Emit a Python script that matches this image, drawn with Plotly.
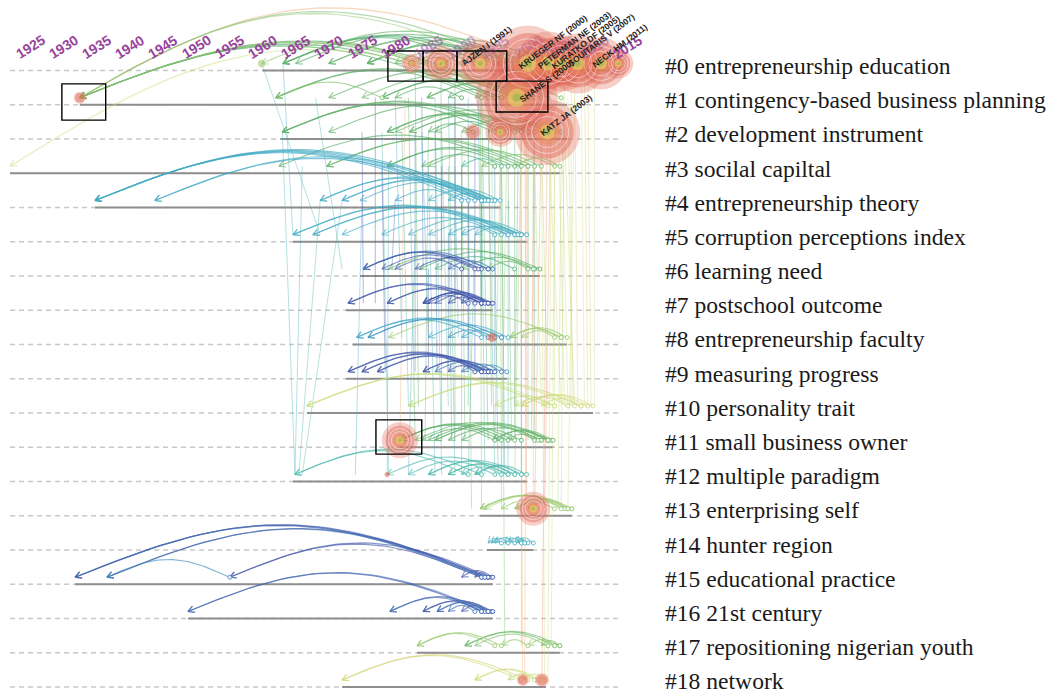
import numpy as np
import plotly.graph_objects as go

# ------------------------------------------------------------------ data
cluster_ids = list(range(19))
cluster_names = [
    "entrepreneurship education", "contingency-based business planning",
    "development instrument", "socilal capiltal", "entrepreneurship theory",
    "corruption perceptions index", "learning need", "postschool outcome",
    "entrepreneurship faculty", "measuring progress", "personality trait",
    "small business owner", "multiple paradigm", "enterprising self",
    "hunter region", "educational practice", "21st century",
    "repositioning nigerian youth", "network",
]
cluster_start = [1960.0, 1932.5, 1962.7, 1922.0, 1934.8, 1964.6, 1974.7, 1972.6, 1973.6, 1972.6,
                 1966.7, 1980.7, 1964.6, 1992.8, 1993.8, 1931.8, 1948.8, 1983.3, 1972.0]
cluster_end = [2012.0, 2005.9, 2006.0, 2004.8, 1995.8, 1999.8, 2001.8, 1994.7, 2005.9, 1996.8,
               2009.8, 2003.8, 1999.8, 2006.6, 2000.8, 1994.7, 1994.7, 2004.8, 2002.7]
timeline_first, timeline_last = 1922.0, 2013.9
year_ticks = list(range(1925, 2016, 5))

# arcs inside a cluster: (citing year, cited year, year of the co-citation link)
arcs_0 = [(1992.0, 1963.1, 2003), (1993.5, 1963.1, 2003), (1995.0, 1963.1, 2002),
          (2000.0, 1963.1, 2004), (1998.0, 1965.0, 2003), (1996.0, 1970.0, 2004),
          (1999.0, 1970.0, 2003), (2003.0, 1975.8, 2004),
          (1995.8, 1975.8, 2003), (1997.0, 1975.8, 2003), (1990.0, 1980.0, 2004),
          (1998.0, 1982.5, 2004), (2000.0, 1986.9, 2004), (1988.0, 1984.0, 2003),
          (1997.0, 1989.8, 2005), (2002.0, 1992.8, 2004), (2005.0, 1996.0, 2005),
          (2008.0, 2001.8, 2007), (2011.0, 2004.0, 2008), (1983.0, 1959.9, 2006)]
arcs_1 = [(1994.0, 1932.5, 2003), (1996.0, 1932.5, 2003), (1998.0, 1932.5, 2004),
          (2000.0, 1932.5, 2003), (1999.0, 1932.5, 2006), (1993.0, 1962.0, 2003),
          (1995.0, 1962.0, 2004), (1998.0, 1978.0, 2003), (1996.0, 1978.0, 2003),
          (2000.0, 1984.8, 2003), (2002.0, 1984.8, 2004), (1995.0, 1988.0, 2003),
          (2003.0, 1992.0, 2004), (1990.0, 1980.0, 2003), (2005.0, 1996.0, 2005),
          (1978.0, 1962.0, 2005), (1999.0, 1970.0, 2003), (2001.0, 1975.0, 2004)]
arcs_2 = [(1995.0, 1963.0, 2003), (1997.0, 1963.0, 2003), (1998.0, 1963.0, 2004),
          (1997.0, 1978.8, 2003), (1999.0, 1978.8, 2003), (2000.0, 1982.2, 2003),
          (2001.0, 1982.2, 2004), (2003.0, 1990.0, 2004), (1995.8, 1986.0, 2003),
          (2005.0, 1998.0, 2005), (2002.9, 1994.0, 2004), (1991.7, 1985.0, 2003),
          (2000.0, 1970.0, 2003), (2004.0, 1980.0, 2004)]
arcs_3 = [(1998.0, 1962.5, 2003), (2000.0, 1969.7, 2003), (2001.0, 1969.7, 2004),
          (1997.0, 1978.8, 2003), (1999.0, 1978.8, 2003), (2002.0, 1985.0, 2004),
          (2004.0, 1993.0, 2005), (1995.0, 1984.0, 2003), (2004.8, 1998.0, 2005),
          (1996.0, 1990.0, 2001)]
arcs_4 = [(1991.0, 1934.8, 1997), (1992.0, 1934.8, 1997), (1993.0, 1934.8, 1998),
          (1994.0, 1934.8, 1997), (1995.0, 1934.8, 1998), (1993.0, 1943.8, 1997),
          (1995.0, 1943.8, 1998), (1993.0, 1968.7, 1997), (1994.5, 1968.7, 1998),
          (1995.0, 1972.0, 1997), (1993.5, 1972.0, 1997), (1994.0, 1974.7, 1998),
          (1995.8, 1985.0, 1998), (1993.5, 1988.0, 1997), (1990.0, 1980.0, 1997)]
arcs_5 = [(1997.0, 1964.6, 1997), (1998.0, 1964.6, 1998), (1999.0, 1967.6, 1997),
          (1998.5, 1967.6, 1998), (1998.0, 1972.0, 1997), (1996.0, 1978.0, 1998),
          (1999.8, 1985.0, 1998), (1995.0, 1988.0, 1997), (1998.5, 1992.0, 1998),
          (1997.0, 1990.0, 1997), (1999.0, 1982.0, 1998)]
arcs_6 = [(1993.0, 1975.2, 1994), (1992.5, 1975.2, 1994), (1994.0, 1975.2, 1995),
          (1992.0, 1978.0, 1994), (1994.0, 1983.0, 1994), (1990.0, 1980.0, 1994),
          (1994.7, 1988.0, 1995), (2001.8, 1983.7, 2003), (2001.0, 1990.0, 2003),
          (2000.0, 1994.0, 2004), (1998.0, 1986.0, 2002), (2000.8, 1979.0, 2004)]
arcs_7 = [(1994.0, 1972.9, 1994), (1993.0, 1972.9, 1994), (1993.0, 1978.8, 1994),
          (1994.5, 1978.8, 1994), (1994.7, 1984.2, 1994), (1994.0, 1984.2, 1994),
          (1993.0, 1984.2, 1994), (1993.5, 1986.0, 1994), (1992.0, 1988.0, 1994),
          (1994.0, 1990.0, 1994), (1991.0, 1985.0, 1994)]
arcs_8 = [(1993.0, 1974.2, 1997), (1995.0, 1974.2, 1997), (1995.0, 1975.9, 1997),
          (1996.0, 1975.9, 1996), (1997.0, 1985.0, 1997), (1994.0, 1988.0, 1996),
          (1996.0, 1990.0, 1997), (2005.9, 1997.3, 2006), (2005.0, 1997.3, 2006),
          (2004.0, 1999.0, 2006), (2005.0, 1979.0, 2006)]
arcs_9 = [(1993.0, 1972.9, 1994), (1994.0, 1972.9, 1994), (1994.0, 1975.0, 1994),
          (1993.5, 1975.0, 1994), (1993.0, 1977.3, 1994), (1994.5, 1977.3, 1994),
          (1994.0, 1984.2, 1994), (1995.0, 1984.2, 1994), (1995.0, 1986.0, 1995),
          (1996.0, 1990.0, 1995), (1992.0, 1988.0, 1994), (1996.8, 1992.0, 1996)]
arcs_10 = [(2003.0, 1966.7, 2008), (2004.0, 1966.7, 2009), (2007.0, 1982.0, 2009),
           (2008.0, 1982.0, 2008), (2009.8, 1999.0, 2009), (2009.0, 1999.0, 2010),
           (2008.0, 2002.0, 2009), (2006.0, 1998.0, 2008), (2004.0, 1995.0, 2008)]
arcs_11 = [(1997.0, 1980.7, 2003), (1998.0, 1980.7, 2004), (1996.0, 1980.7, 2003),
           (2003.0, 1986.0, 2003), (2002.0, 1986.0, 2004), (2002.0, 1990.0, 2003),
           (2003.8, 1994.7, 2004), (2003.0, 1994.7, 2003), (2001.0, 1997.0, 2004),
           (2003.0, 2000.8, 2005), (1999.0, 1988.0, 2003), (1995.0, 1984.0, 2003),
           (2003.5, 1985.0, 2003), (2001.5, 1983.0, 2004)]
arcs_12 = [(1993.0, 1964.9, 2000), (1991.0, 1964.9, 2000), (1997.0, 1978.8, 2000),
           (1999.0, 1985.0, 2000), (1998.0, 1985.0, 2000), (1998.0, 1988.0, 2000),
           (1997.0, 1988.0, 2001), (1999.8, 1992.0, 2000), (1999.0, 1992.0, 2000),
           (1996.0, 1990.0, 2000), (1995.0, 1982.0, 2000)]
arcs_13 = [(2006.0, 1992.8, 2006), (2005.5, 1992.8, 2006), (2006.6, 1993.5, 2007),
           (2006.6, 1998.0, 2006), (2006.0, 1998.0, 2006), (2005.0, 2000.0, 2006),
           (2004.0, 1996.0, 2006)]
arcs_14 = [(1996.0, 1994.0, 1998), (1998.0, 1995.0, 1998), (1999.0, 1996.5, 1998),
           (2000.8, 1998.0, 1998), (2000.0, 1997.0, 1998), (1997.0, 1994.5, 1998),
           (1999.5, 1998.5, 1998)]
arcs_15 = [(1993.5, 1931.8, 1994), (1994.0, 1931.8, 1994), (1993.0, 1931.8, 1995),
           (1994.0, 1936.6, 1994), (1993.5, 1936.6, 1995), (1993.0, 1955.1, 1994),
           (1994.5, 1955.1, 1994), (1955.1, 1936.6, 1996), (1994.7, 1990.0, 1994),
           (1994.0, 1992.0, 1994)]
arcs_16 = [(1993.5, 1948.8, 1994), (1994.0, 1948.8, 1995), (1994.0, 1979.2, 1994),
           (1993.0, 1979.2, 1995), (1993.0, 1984.2, 1994), (1994.5, 1984.2, 1994),
           (1994.7, 1986.3, 1994), (1994.0, 1986.3, 1995), (1994.0, 1990.0, 1994),
           (1992.0, 1988.0, 1995)]
arcs_17 = [(1995.0, 1983.3, 2006), (1996.0, 1983.3, 2006), (2004.8, 1990.5, 2004),
           (2004.0, 1990.5, 2004), (2003.0, 1992.0, 2005), (2004.0, 2000.0, 2006),
           (2004.8, 2002.0, 2005), (2000.0, 1996.0, 2006)]
arcs_18 = [(1999.0, 1972.0, 2009), (2000.0, 1972.0, 2010), (2002.0, 1992.0, 2009),
           (2001.5, 1992.0, 2009), (2001.0, 1997.0, 2008), (2002.7, 1999.0, 2009)]

# arcs between clusters: (citing year, citing row, cited year, cited row, link year)
cross_arcs = [(2001.8, 0, 1932.5, 1, 2012), (1998.0, 0, 1932.5, 1, 2004),
              (1996.0, 0, 1932.5, 1, 2006), (1999.0, 1, 1922.0, 3, 2009)]

# near-vertical links between clusters: (year, row, year, row, link year)
cross_lines = [
    (1963.0, 2, 1964.9, 12, 1999), (1966.0, 3, 1964.9, 12, 1999), (1968.7, 4, 1965.5, 12, 2000),
    (1972.0, 4, 1966.0, 12, 2000), (1978.0, 2, 1979.0, 12, 1999), (1985.0, 3, 1986.0, 12, 1999),
    (1990.0, 4, 1990.0, 12, 1999), (1994.0, 2, 1995.0, 12, 2000), (1988.0, 1, 1989.0, 12, 1999),
    (1996.0, 3, 1996.5, 12, 1999), (1999.0, 5, 1999.0, 12, 1998), (1983.0, 5, 1982.0, 12, 1998),
    (1975.0, 4, 1974.0, 12, 1998), (1992.0, 5, 1991.0, 12, 1999), (1959.9, 0, 1968.7, 5, 1999),
    (1963.1, 0, 1964.6, 5, 1998), (1968.0, 1, 1972.0, 6, 1999),
    (1980.0, 1, 1981.0, 8, 1998), (1984.0, 2, 1985.0, 8, 1997), (1989.0, 3, 1989.5, 8, 1998),
    (1991.0, 1, 1991.0, 10, 1999), (1987.0, 2, 1988.0, 10, 2000), (1993.0, 3, 1993.5, 12, 2000),
    (1997.0, 4, 1997.0, 12, 1999), (1995.0, 5, 1995.5, 12, 1998), (1979.0, 3, 1978.8, 12, 2000),
    (1982.0, 1, 1983.0, 11, 2003), (1986.9, 0, 1987.0, 11, 2003), (1990.0, 2, 1990.5, 11, 2004),
    (1993.0, 1, 1994.0, 11, 2003), (1997.0, 3, 1997.5, 11, 2004), (2001.0, 2, 2001.0, 11, 2004),
    (1988.0, 3, 1988.5, 11, 2003), (1985.0, 2, 1984.5, 11, 2004), (1995.8, 0, 1996.0, 13, 2005),
    (1992.8, 0, 1993.0, 13, 2005), (1983.0, 0, 1983.5, 10, 2003), (1989.0, 0, 1989.0, 11, 2004),
    (1994.0, 1, 1994.5, 10, 2004), (1998.0, 2, 1998.0, 11, 2003), (2000.0, 3, 2000.0, 11, 2004),
    (1991.0, 2, 1991.5, 13, 2005), (1996.0, 2, 1996.5, 17, 2005), (1999.0, 1, 1999.0, 17, 2006),
    (1975.0, 2, 1975.2, 7, 1994), (1978.0, 3, 1978.5, 9, 1994), (1986.0, 2, 1986.3, 9, 1995),
    (1990.0, 3, 1990.0, 7, 1994), (1984.0, 1, 1984.2, 6, 1995), (1992.0, 2, 1992.0, 9, 1994),
    (1993.0, 4, 1993.0, 7, 1994), (1988.0, 5, 1988.0, 9, 1995), (1980.0, 4, 1979.5, 6, 1995),
    (1985.0, 6, 1985.0, 9, 1994), (1977.0, 1, 1977.0, 7, 1994), (1983.0, 2, 1983.0, 9, 1995),
    (1987.0, 3, 1987.0, 6, 1994), (1991.0, 4, 1991.0, 9, 1994), (1989.0, 1, 1989.0, 7, 1995),
    (1981.5, 1, 1980.7, 11, 2012), (1998.8, 1, 1999.2, 18, 2012), (2002.9, 2, 2002.1, 18, 2013),
    (2000.8, 1, 2000.8, 13, 2012), (2002.0, 2, 2001.0, 13, 2013), (1999.5, 0, 1999.8, 13, 2013),
    (2001.0, 0, 2000.5, 11, 2014), (1999.8, 2, 1999.5, 18, 2012), (2003.5, 1, 2002.5, 13, 2013),
    (2003.0, 2, 2005.0, 10, 2009), (2005.0, 1, 2006.0, 10, 2009), (2007.0, 0, 2007.5, 10, 2010),
    (2008.0, 0, 2008.5, 10, 2009), (2009.0, 0, 2009.5, 10, 2010), (2004.0, 3, 2004.0, 10, 2009),
    (2002.0, 2, 2003.0, 10, 2008), (2006.0, 1, 2006.8, 10, 2009), (2010.0, 0, 2010.0, 10, 2010),
    (2001.0, 3, 2002.0, 10, 2008), (2004.0, 2, 2003.5, 17, 2009), (2002.0, 1, 2002.5, 18, 2009),
    (2005.5, 0, 2005.0, 13, 2008), (2000.0, 2, 2000.0, 8, 2008), (2006.5, 0, 2006.5, 10, 2009),
    (2005.5, 2, 2007.0, 10, 2010), (2004.5, 1, 2005.5, 10, 2009), (2008.5, 0, 2009.0, 10, 2010),
    (2003.5, 2, 2003.0, 18, 2009), (2005.0, 3, 2004.5, 13, 2008), (2007.0, 1, 2006.0, 13, 2009),
    (1996.0, 1, 1995.0, 11, 2006), (1999.0, 2, 1998.0, 12, 2006), (1994.6, 2, 1994.6, 8, 2006),
    (1997.0, 0, 1996.0, 12, 2006), (1986.0, 1, 1987.0, 12, 2000), (1981.0, 2, 1982.0, 10, 2001),
    (1995.0, 3, 1995.0, 9, 1996), (1992.5, 1, 1993.0, 8, 1997), (1998.5, 3, 1998.0, 10, 2002),
]

# highly cited references (citation rings)
burst_year = [1982.5, 1986.9, 1992.8, 2000.0, 2003.0, 2005.1, 2007.5, 2011.0, 2013.6,
              1932.5, 1998.3, 1991.7, 1995.8, 2002.9, 1994.6, 1980.7, 1978.8, 2000.8,
              1999.2, 2002.1, 1959.9]
burst_row = [0, 0, 0, 0, 0, 0, 0, 0, 0, 1, 1, 2, 2, 2, 8, 11, 12, 13, 18, 18, 0]
burst_cites = [25, 81, 144, 361, 256, 196, 225, 169, 56, 9, 420, 16, 56, 272, 6, 81, 2, 72,
               9, 12, 4]

node_label_text = ["AJZEN I (1991)", "KRUEGER NF (2000)", "PETERMAN NE (2003)",
                   "KURATKO DF (2005)", "SOUITARIS V (2007)", "NECK HM (2011)",
                   "SHANE S (2000)", "KATZ JA (2003)"]
node_label_year = [1991, 2000, 2003, 2005, 2007, 2011, 2000, 2003]
node_label_row = [0, 0, 0, 0, 0, 0, 1, 2]

# highlighted references (boxes): year span and row span
box_year0 = [1978.9, 1984.2, 1989.3, 1995.2, 1929.8, 1977.1]
box_year1 = [1984.2, 1989.3, 1996.8, 2003.0, 1936.4, 1984.0]
box_row0 = [-0.57, -0.57, -0.57, 0.31, 0.39, 10.2]
box_row1 = [0.31, 0.31, 0.31, 1.21, 1.45, 11.2]

ARCS = [arcs_0, arcs_1, arcs_2, arcs_3, arcs_4, arcs_5, arcs_6, arcs_7, arcs_8, arcs_9,
        arcs_10, arcs_11, arcs_12, arcs_13, arcs_14, arcs_15, arcs_16, arcs_17, arcs_18]

# ------------------------------------------------------------------ geometry / style
W, H = 1051, 693
PX_PER_YEAR = 6.64
YEAR_REF, PX_REF = 1925, 30.0
ROW0_PX, ROW_STEP = 70.5, 34.25
NODE_DY = -7.0
ARC_RISE, ARC_BASE = 0.12, 3.0
CROSS_RISE = 0.15
ARROW_LEN, ARROW_ANG = 7.0, 0.5


def xp(yr):
    return PX_REF + (np.asarray(yr, float) - YEAR_REF) * PX_PER_YEAR


def yp(r):
    return ROW0_PX + np.asarray(r, float) * ROW_STEP


def to_year(px):
    return YEAR_REF + (np.asarray(px, float) - PX_REF) / PX_PER_YEAR


def to_row(py):
    return (np.asarray(py, float) - ROW0_PX) / ROW_STEP


RAMP_YEARS = [1994, 1997, 2000, 2003, 2006, 2009, 2012, 2014]
RAMP_RGB = [(60, 82, 168), (62, 166, 200), (76, 184, 172), (82, 170, 100),
            (150, 200, 110), (206, 222, 122), (240, 176, 116), (236, 138, 110)]


def link_color(year, alpha):
    ch = [int(round(np.interp(year, RAMP_YEARS, [c[i] for c in RAMP_RGB]))) for i in range(3)]
    return f"rgba({ch[0]},{ch[1]},{ch[2]},{alpha})"


def add_seg(store, key, xs, ys):
    d = store.setdefault(key, ([], []))
    d[0].extend(list(to_year(xs)) + [None])
    d[1].extend(list(to_row(ys)) + [None])


def hump(store, key, x1, y1, x2, y2, rise=ARC_RISE, n=40):
    span = abs(x2 - x1)
    h = rise * span + ARC_BASE
    t = np.linspace(0, 1, n)
    xs = x1 + (x2 - x1) * t
    ys = y1 + (y2 - y1) * t - h * np.sin(np.pi * t)
    add_seg(store, key, xs, ys)
    dx, dy = (x2 - x1), (y2 - y1) + h * np.pi
    L = np.hypot(dx, dy)
    bx, by = -dx / L, -dy / L
    wx, wy = [], []
    for a in (ARROW_ANG, -ARROW_ANG):
        ca, sa = np.cos(a), np.sin(a)
        wx.append(x2 + ARROW_LEN * (bx * ca - by * sa))
        wy.append(y2 + ARROW_LEN * (bx * sa + by * ca))
    add_seg(store, key, [wx[0], x2, wx[1]], [wy[0], y2, wy[1]])


fig = go.Figure()

# dashed row guides
gx, gy = [], []
for k in cluster_ids:
    gx += [timeline_first, timeline_last, None]
    gy += [k, k, None]
fig.add_trace(go.Scatter(x=gx, y=gy, mode="lines", hoverinfo="skip",
                         line=dict(color="#c8c8c8", width=1.3, dash="5px,4px")))

# cluster time spans
sx, sy = [], []
for k in cluster_ids:
    sx += [cluster_start[k], cluster_end[k], None]
    sy += [k, k, None]
fig.add_trace(go.Scatter(x=sx, y=sy, mode="lines", hoverinfo="skip",
                         line=dict(color="#8e8e8e", width=2.2)))

# cross-cluster straight links
lines_store = {}
for (y1, r1, y2, r2, ly) in cross_lines:
    add_seg(lines_store, link_color(ly, 0.45),
            [xp(y1), xp(y2)], [yp(r1) + NODE_DY, yp(r2) + NODE_DY])
for col, (xs, ys) in lines_store.items():
    fig.add_trace(go.Scatter(x=xs, y=ys, mode="lines", hoverinfo="skip",
                             line=dict(color=col, width=0.9)))

# arcs
arc_store = {}
node_store = {}
for k, arcs in enumerate(ARCS):
    for (fy, ty, ly) in arcs:
        col = link_color(ly, 0.62)
        hump(arc_store, col, float(xp(fy)), float(yp(k) + NODE_DY),
             float(xp(ty)), float(yp(k) + NODE_DY))
        nd = node_store.setdefault(link_color(ly, 0.9), ([], []))
        nd[0].append(fy)
        nd[1].append(float(to_row(yp(k) + NODE_DY)))
for (fy, fr, ty, tr, ly) in cross_arcs:
    col = link_color(ly, 0.5)
    hump(arc_store, col, float(xp(fy)), float(yp(fr) + NODE_DY),
         float(xp(ty)), float(yp(tr) + NODE_DY), rise=CROSS_RISE)
for col, (xs, ys) in arc_store.items():
    fig.add_trace(go.Scatter(x=xs, y=ys, mode="lines", hoverinfo="skip",
                             line=dict(color=col, width=1.2)))

for col, (xs, ys) in node_store.items():
    fig.add_trace(go.Scatter(x=xs, y=ys, mode="markers", hoverinfo="skip",
                             marker=dict(size=4, color="rgba(255,255,255,0.8)",
                                         line=dict(color=col, width=0.9))))

# citation rings
b_r = 2.0 * np.sqrt(np.array(burst_cites, float))
b_x = list(burst_year)
b_y = list(to_row(yp(np.array(burst_row)) + NODE_DY))
big = b_r >= 9
tiny_green = b_r < 4.5
layers = [
    (2.0, "rgba(230,118,100,0.5)", None, False),
    (1.6, "rgba(222,96,80,0.6)", None, False),
    (1.3, "rgba(0,0,0,0)", "rgba(255,255,255,0.7)", True),
    (0.95, "rgba(0,0,0,0)", "rgba(255,255,255,0.65)", True),
    (0.75, "rgba(234,140,90,0.65)", None, True),
    (0.45, "rgba(228,208,100,0.9)", None, True),
    (0.2, "rgba(140,188,80,0.95)", None, True),
]
for scale, fill, edge, only_big in layers:
    idx = [i for i in range(len(b_x)) if (big[i] or not only_big) and not (tiny_green[i] and burst_row[i] == 0)]
    fig.add_trace(go.Scatter(
        x=[b_x[i] for i in idx], y=[b_y[i] for i in idx], mode="markers", hoverinfo="skip",
        marker=dict(size=[scale * b_r[i] for i in idx], color=fill,
                    line=dict(color=edge if edge else "rgba(0,0,0,0)", width=1 if edge else 0))))
# the small early node of cluster #0 is drawn in its link colour
g_idx = [i for i in range(len(b_x)) if tiny_green[i] and burst_row[i] == 0]
fig.add_trace(go.Scatter(x=[b_x[i] for i in g_idx], y=[b_y[i] for i in g_idx], mode="markers",
                         hoverinfo="skip",
                         marker=dict(size=[2.2 * b_r[i] for i in g_idx],
                                     color="rgba(160,200,110,0.8)")))

# ------------------------------------------------------------------ text
ann = []
faded = {1985: 0.55, 1990: 0.45, 1995: 0.4, 2000: 0.3, 2005: 0.3, 2010: 0.45}
for yr in year_ticks:
    ann.append(dict(x=yr, y=float(to_row(47)), xref="x", yref="y", text=f"<b>{yr}</b>",
                    showarrow=False, textangle=-32, xanchor="center", yanchor="middle",
                    font=dict(family="Arial, Liberation Sans", size=14, color="#98449c"),
                    opacity=faded.get(yr, 1.0)))
for k in cluster_ids:
    ann.append(dict(x=float(to_year(663)), y=float(to_row(66 + 34.18 * k)), xref="x", yref="y",
                    text=f"#{k} {cluster_names[k]}", showarrow=False,
                    xanchor="left", yanchor="middle",
                    font=dict(family="Liberation Serif, Times New Roman", size=23.6, color="#1a1a1a")))
LABEL_FS, LABEL_ANG = 8.5, 37.0
for txt, yr, r in zip(node_label_text, node_label_year, node_label_row):
    sx0 = float(xp(yr)) - 11
    sy0 = float(yp(r)) - 2
    L = len(txt) * 0.62 * LABEL_FS
    cx = sx0 + L / 2 * np.cos(np.radians(LABEL_ANG))
    cy = sy0 - L / 2 * np.sin(np.radians(LABEL_ANG))
    ann.append(dict(x=float(to_year(cx)), y=float(to_row(cy)), xref="x", yref="y",
                    text=f"<b>{txt}</b>", showarrow=False, textangle=-LABEL_ANG,
                    xanchor="center", yanchor="middle",
                    font=dict(family="Arial, Liberation Sans", size=LABEL_FS, color="#222222")))

shapes = []
for x0, x1, r0, r1 in zip(box_year0, box_year1, box_row0, box_row1):
    shapes.append(dict(type="rect", xref="x", yref="y", x0=x0, x1=x1, y0=r0, y1=r1,
                       line=dict(color="black", width=1.4), layer="above"))

fig.update_layout(
    width=W, height=H, autosize=False,
    margin=dict(l=0, r=0, t=0, b=0),
    paper_bgcolor="white", plot_bgcolor="white",
    showlegend=False, annotations=ann, shapes=shapes,
    xaxis=dict(range=[float(to_year(0)), float(to_year(W))], visible=False, fixedrange=True),
    yaxis=dict(range=[float(to_row(H)), float(to_row(0))], visible=False, fixedrange=True),
)
fig.write_html("out.html", config={"displayModeBar": False},
               post_script="document.body.style.margin='0';document.body.style.overflow='hidden';")
